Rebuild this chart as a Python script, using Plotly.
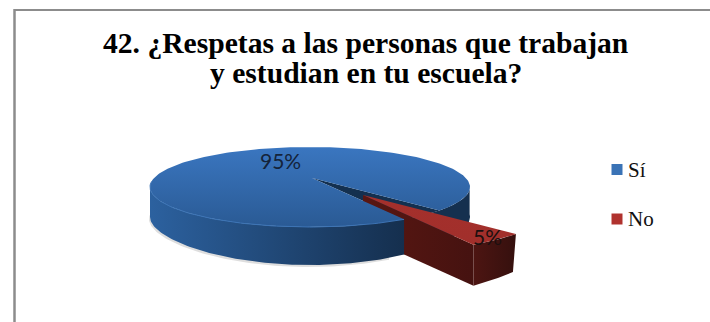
import numpy as np
import plotly.graph_objects as go

# Data
categories = ["Sí", "No"]
values = [95, 5]
labels = ["95%", "5%"]
title_lines = ["42. ¿Respetas a las personas que trabajan", "y estudian en tu escuela?"]

# Projection of the tilted pie onto the page
CX, CY, RX, RY = 310, 187, 160, 40
APEX = (312, 178)
DEPTH = 38
START_DEG = 36          # screen angle where the "No" slice begins
EXPLODE = (51, 17)
NEAR = 1.2              # exploded slice appears larger (perspective)
NEAR_DEPTH = 41

no_sweep = 360 * values[1] / sum(values)
a0 = START_DEG
a1 = START_DEG + no_sweep


def rim(t0, t1, n=90):
    t = np.radians(np.linspace(t0, t1, n))
    return CX + RX * np.cos(t), CY + RY * np.sin(t)


def wall_depth(x):
    # wall looks shallower towards the far sides of the ellipse
    return DEPTH - 8 * ((x - CX) / RX) ** 2


def band(x, y):
    return (np.r_[x, x[::-1]], np.r_[y, (y + wall_depth(x))[::-1]])


def poly(x, y, **fill):
    return go.Scatter(x=list(x) + [x[0]], y=list(y) + [y[0]], mode="lines", fill="toself",
                      line=dict(width=0), showlegend=False, hoverinfo="skip", **fill)


def vgrad(top, bottom, start, stop):
    return dict(fillgradient=dict(type="vertical", colorscale=[[0, top], [1, bottom]], start=start, stop=stop))


def hgrad(left, right, start, stop):
    return dict(fillgradient=dict(type="horizontal", colorscale=[[0, left], [1, right]], start=start, stop=stop))


fig = go.Figure()

# soft shadow under the pie
sx, sy = rim(60, 190)
fig.add_trace(poly(np.r_[sx - 1, sx[::-1]], np.r_[sy + wall_depth(sx) + 2, sy[::-1]], fillcolor="rgba(90,90,90,0.2)"))

# far wall of the "Sí" slice, right of the notch and behind the red slice
x, y = rim(-4, a1, 40)
bx, by = band(x, y)
fig.add_trace(poly(bx, by, fillcolor="#15304f"))

# notch left by the exploded slice
nx, ny = rim(a0, a1, 20)
fig.add_trace(poly(np.r_[APEX[0], nx], np.r_[APEX[1], ny], fillcolor="#14304f"))

# exploded "No" slice
ax, ay = APEX[0] + EXPLODE[0], APEX[1] + EXPLODE[1]
rx_, ry_ = rim(a0, a1, 20)
ox = ax + (rx_ - APEX[0]) * NEAR
oy = ay + (ry_ - APEX[1]) * NEAR
# inner cut wall
fig.add_trace(poly([ax, ox[-1], ox[-1], ax], [ay, oy[-1], oy[-1] + NEAR_DEPTH, ay + NEAR_DEPTH],
                   **hgrad("#5a1712", "#451210", ax, ox[-1])))
# outer wall
frac = (ox - ox[-1]) / (ox[0] - ox[-1])
fig.add_trace(poly(np.r_[ox, (ox - 3 * frac)[::-1]], np.r_[oy, (oy + NEAR_DEPTH - 3 * frac)[::-1]],
                   **hgrad("#4d1512", "#35100e", ox[-1], ox[0])))
# top face
fig.add_trace(poly(np.r_[ax, ox], np.r_[ay, oy], **vgrad("#a5302c", "#a12f2b", ay, oy.max())))

# "Sí" slice: top face, then front wall
tx, ty = rim(a1, a0 + 360, 240)
fig.add_trace(poly(np.r_[APEX[0], tx], np.r_[APEX[1], ty],
                   **vgrad("#3a76c0", "#2a5a94", CY - RY, CY + RY)))
wx, wy = rim(a1, 180, 90)
bx, by = band(wx, wy)
fig.add_trace(poly(bx, by, **hgrad("#2c619f", "#152f4e", CX - RX, wx[0])))
# light rim between top face and wall
fx, fy = rim(a1, 188, 90)
fig.add_trace(go.Scatter(x=fx, y=fy, mode="lines", line=dict(color="#3c74b6", width=1),
                         showlegend=False, hoverinfo="skip"))

# legend keys and names
colors = ["#3a73b6", "#b0322e"]
legend_y = [169.5, 219]
for name, c, ly in zip(categories, colors, legend_y):
    fig.add_trace(go.Scatter(x=[617], y=[ly], mode="markers", showlegend=False, hoverinfo="skip",
                             marker=dict(symbol="square", size=11, color=c, line=dict(width=0))))
    fig.add_annotation(x=626, y=ly, text=name, showarrow=False, xanchor="left",
                       font=dict(family="Liberation Serif", size=21, color="#111"))

# data labels
fig.add_annotation(x=280, y=160.5, text=labels[0], showarrow=False,
                   font=dict(family="Lato", size=21, color="#14233a"))
fig.add_annotation(x=487, y=236, text=labels[1], showarrow=False,
                   font=dict(family="Lato", size=21, color="#1c0f0f"))

# title
for line, ty_ in zip(title_lines, [42.5, 73]):
    fig.add_annotation(x=366, y=ty_, text=f"<b>{line}</b>", showarrow=False,
                       font=dict(family="Liberation Serif", size=29.6, color="black"))

fig.update_layout(
    width=710, height=322, margin=dict(l=0, r=0, t=0, b=0),
    paper_bgcolor="white", plot_bgcolor="white", showlegend=False,
    xaxis=dict(range=[0, 710], visible=False, fixedrange=True),
    yaxis=dict(range=[322, 0], visible=False, fixedrange=True),
    shapes=[
        dict(type="line", xref="paper", yref="paper", x0=14 / 710, x1=1, y0=1 - 10 / 322, y1=1 - 10 / 322,
             line=dict(color="#8c8c8c", width=2)),
        dict(type="line", xref="paper", yref="paper", x0=14.5 / 710, x1=14.5 / 710, y0=1 - 9 / 322, y1=0,
             line=dict(color="#8c8c8c", width=2.5)),
    ],
)
fig.write_html("out.html", config=dict(displayModeBar=False),
               post_script="document.body.style.margin='0';document.documentElement.style.overflow='hidden';")
